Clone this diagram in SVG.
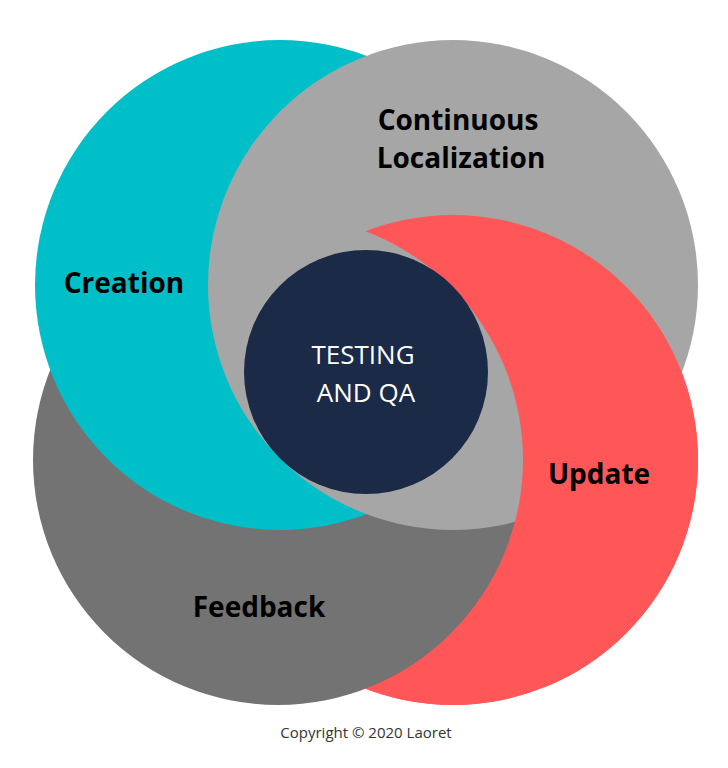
<svg xmlns="http://www.w3.org/2000/svg" width="728" height="768" viewBox="0 0 728 768">
<style>
.l{font-family:"Open Sans","Liberation Sans",sans-serif;font-weight:bold;font-size:28px;fill:#000;text-anchor:middle}
.c{font-family:"Open Sans","Liberation Sans",sans-serif;font-size:26px;fill:#fff;text-anchor:middle}
</style>
<defs>
<mask id="m"><rect width="728" height="768" fill="#fff"/><circle cx="278" cy="460" r="245" fill="#000"/></mask>
</defs>
<rect width="728" height="768" fill="#fff"/>
<g id="update-back"><circle cx="453" cy="460" r="245" fill="#FF5757"/></g>
<g id="feedback"><circle cx="278" cy="460" r="245" fill="#737373"/></g>
<g id="creation"><circle cx="280" cy="285" r="245" fill="#00BFC8"/></g>
<g id="continuous"><circle cx="453" cy="285" r="245" fill="#A6A6A6"/></g>
<g id="update"><circle cx="453" cy="460" r="245" fill="#FF5757" mask="url(#m)"/></g>
<g id="testing"><circle cx="366" cy="372" r="122" fill="#1B2A47"/>
<text class="c" x="363" y="364">TESTING</text><text class="c" x="366" y="402">AND QA</text></g>
<g id="labels">
<text class="l" x="458" y="130">Continuous</text>
<text class="l" x="461" y="168">Localization</text>
<text class="l" x="124" y="293">Creation</text>
<text class="l" x="599" y="484">Update</text>
<text class="l" x="259" y="617">Feedback</text>
</g>
<text x="366" y="738" font-family="Open Sans, Liberation Sans, sans-serif" font-size="15" fill="#333" text-anchor="middle">Copyright © 2020 Laoret</text>
<g id="connectors"/>
</svg>
